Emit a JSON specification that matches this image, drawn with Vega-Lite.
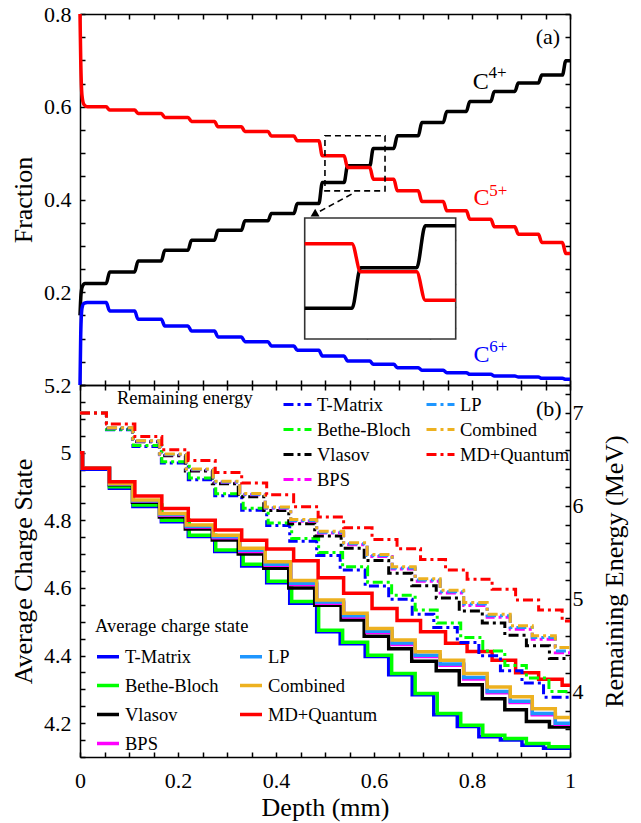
{
"$schema":"https://vega.github.io/schema/vega-lite/v6.json",
"padding":{"left":10,"top":3,"right":5,"bottom":5},
"spacing":0,
"bounds":"flush",
"config":{
 "view":{"stroke":null},
 "font":"Liberation Serif",
 "text":{"font":"Liberation Serif"},
 "style":{"guide-label":{"font":"Liberation Serif","fontWeight":"normal"},"guide-title":{"font":"Liberation Serif","fontWeight":"normal"}},
 "axis":{"domainColor":"#000","domainWidth":1.5,"tickColor":"#000","tickWidth":1.5,"tickSize":-5,"labelPadding":9,"labelFlush":false,"labelFont":"Liberation Serif","labelFontSize":22,"labelColor":"#000","labelOverlap":false,"titleFont":"Liberation Serif","titleFontSize":26,"titleFontWeight":"normal","titleColor":"#000","grid":false},
 "legend":{"labelFont":"Liberation Serif","labelFontWeight":"normal","labelFontSize":18.5,"labelColor":"#000","titleFont":"Liberation Serif","titleFontSize":18.5,"titleFontWeight":"normal","titleColor":"#000","padding":0}
},
"datasets":{
"top":[
{"s":"C4+","d":0,"v":0.15},{"s":"C4+","d":0.002,"v":0.195},{"s":"C4+","d":0.005,"v":0.213},{"s":"C4+","d":0.01,"v":0.2187},
{"s":"C4+","d":0.0535,"v":0.2187},{"s":"C4+","d":0.0605,"v":0.2439},
{"s":"C4+","d":0.1115,"v":0.2439},{"s":"C4+","d":0.1185,"v":0.2676},
{"s":"C4+","d":0.166,"v":0.2676},{"s":"C4+","d":0.173,"v":0.2906},
{"s":"C4+","d":0.2205,"v":0.2906},{"s":"C4+","d":0.2275,"v":0.3122},
{"s":"C4+","d":0.2745,"v":0.3122},{"s":"C4+","d":0.2815,"v":0.3338},
{"s":"C4+","d":0.3295,"v":0.3338},{"s":"C4+","d":0.3365,"v":0.354},
{"s":"C4+","d":0.3835,"v":0.354},{"s":"C4+","d":0.3905,"v":0.3698},
{"s":"C4+","d":0.4365,"v":0.3698},{"s":"C4+","d":0.4435,"v":0.3914},
{"s":"C4+","d":0.4875,"v":0.3914},{"s":"C4+","d":0.4945,"v":0.4367},
{"s":"C4+","d":0.539,"v":0.4367},{"s":"C4+","d":0.546,"v":0.4727},
{"s":"C4+","d":0.5915,"v":0.4727},{"s":"C4+","d":0.5985,"v":0.5101},
{"s":"C4+","d":0.6405,"v":0.5101},{"s":"C4+","d":0.6475,"v":0.5374},
{"s":"C4+","d":0.6905,"v":0.5374},{"s":"C4+","d":0.6975,"v":0.5662},
{"s":"C4+","d":0.7415,"v":0.5662},{"s":"C4+","d":0.7485,"v":0.5899},
{"s":"C4+","d":0.7885,"v":0.5899},{"s":"C4+","d":0.7955,"v":0.6115},
{"s":"C4+","d":0.8385,"v":0.6115},{"s":"C4+","d":0.8455,"v":0.6331},
{"s":"C4+","d":0.8875,"v":0.6331},{"s":"C4+","d":0.8945,"v":0.6511},
{"s":"C4+","d":0.9355,"v":0.6511},{"s":"C4+","d":0.9425,"v":0.6683},
{"s":"C4+","d":0.9845,"v":0.6683},{"s":"C4+","d":0.9915,"v":0.6993},
{"s":"C4+","d":1,"v":0.6993},
{"s":"C5+","d":0,"v":0.8},{"s":"C5+","d":0.0015,"v":0.7},{"s":"C5+","d":0.004,"v":0.625},{"s":"C5+","d":0.008,"v":0.605},{"s":"C5+","d":0.015,"v":0.6},
{"s":"C5+","d":0.0535,"v":0.6},{"s":"C5+","d":0.0605,"v":0.5928},
{"s":"C5+","d":0.1115,"v":0.5928},{"s":"C5+","d":0.1185,"v":0.5856},
{"s":"C5+","d":0.166,"v":0.5856},{"s":"C5+","d":0.173,"v":0.577},
{"s":"C5+","d":0.2205,"v":0.577},{"s":"C5+","d":0.2275,"v":0.5683},
{"s":"C5+","d":0.2745,"v":0.5683},{"s":"C5+","d":0.2815,"v":0.5568},
{"s":"C5+","d":0.3295,"v":0.5568},{"s":"C5+","d":0.3365,"v":0.5468},
{"s":"C5+","d":0.3835,"v":0.5468},{"s":"C5+","d":0.3905,"v":0.5367},
{"s":"C5+","d":0.4365,"v":0.5367},{"s":"C5+","d":0.4435,"v":0.5266},
{"s":"C5+","d":0.4875,"v":0.5266},{"s":"C5+","d":0.4945,"v":0.4942},
{"s":"C5+","d":0.539,"v":0.4942},{"s":"C5+","d":0.546,"v":0.4691},
{"s":"C5+","d":0.5915,"v":0.4691},{"s":"C5+","d":0.5985,"v":0.4439},
{"s":"C5+","d":0.6405,"v":0.4439},{"s":"C5+","d":0.6475,"v":0.4187},
{"s":"C5+","d":0.6905,"v":0.4187},{"s":"C5+","d":0.6975,"v":0.3957},
{"s":"C5+","d":0.7415,"v":0.3957},{"s":"C5+","d":0.7485,"v":0.3755},
{"s":"C5+","d":0.7885,"v":0.3755},{"s":"C5+","d":0.7955,"v":0.3576},
{"s":"C5+","d":0.8385,"v":0.3576},{"s":"C5+","d":0.8455,"v":0.341},
{"s":"C5+","d":0.8875,"v":0.341},{"s":"C5+","d":0.8945,"v":0.3252},
{"s":"C5+","d":0.9355,"v":0.3252},{"s":"C5+","d":0.9425,"v":0.3072},
{"s":"C5+","d":0.9845,"v":0.3072},{"s":"C5+","d":0.9915,"v":0.2835},
{"s":"C5+","d":1,"v":0.2835},
{"s":"C6+","d":0,"v":0},{"s":"C6+","d":0.0015,"v":0.11},{"s":"C6+","d":0.004,"v":0.165},{"s":"C6+","d":0.008,"v":0.176},{"s":"C6+","d":0.015,"v":0.1777},
{"s":"C6+","d":0.0535,"v":0.1777},{"s":"C6+","d":0.0605,"v":0.1597},
{"s":"C6+","d":0.1115,"v":0.1597},{"s":"C6+","d":0.1185,"v":0.1417},
{"s":"C6+","d":0.166,"v":0.1417},{"s":"C6+","d":0.173,"v":0.1273},
{"s":"C6+","d":0.2205,"v":0.1273},{"s":"C6+","d":0.2275,"v":0.1165},
{"s":"C6+","d":0.2745,"v":0.1165},{"s":"C6+","d":0.2815,"v":0.1036},
{"s":"C6+","d":0.3295,"v":0.1036},{"s":"C6+","d":0.3365,"v":0.0935},
{"s":"C6+","d":0.3835,"v":0.0935},{"s":"C6+","d":0.3905,"v":0.0842},
{"s":"C6+","d":0.4365,"v":0.0842},{"s":"C6+","d":0.4435,"v":0.0748},
{"s":"C6+","d":0.4875,"v":0.0748},{"s":"C6+","d":0.4945,"v":0.0626},
{"s":"C6+","d":0.539,"v":0.0626},{"s":"C6+","d":0.546,"v":0.0518},
{"s":"C6+","d":0.5915,"v":0.0518},{"s":"C6+","d":0.5985,"v":0.0446},
{"s":"C6+","d":0.6405,"v":0.0446},{"s":"C6+","d":0.6475,"v":0.0374},
{"s":"C6+","d":0.6905,"v":0.0374},{"s":"C6+","d":0.6975,"v":0.0317},
{"s":"C6+","d":0.7415,"v":0.0317},{"s":"C6+","d":0.7485,"v":0.0266},
{"s":"C6+","d":0.7885,"v":0.0266},{"s":"C6+","d":0.7955,"v":0.023},
{"s":"C6+","d":0.8385,"v":0.023},{"s":"C6+","d":0.8455,"v":0.0194},
{"s":"C6+","d":0.8875,"v":0.0194},{"s":"C6+","d":0.8945,"v":0.0173},
{"s":"C6+","d":0.9355,"v":0.0173},{"s":"C6+","d":0.9425,"v":0.0144},
{"s":"C6+","d":0.9845,"v":0.0144},{"s":"C6+","d":0.9915,"v":0.0122},
{"s":"C6+","d":1,"v":0.0122}
],
"ins":[
{"s":"C4+","d":0.5006,"v":0.4367},{"s":"C4+","d":0.539,"v":0.4367},{"s":"C4+","d":0.546,"v":0.4727},{"s":"C4+","d":0.5915,"v":0.4727},{"s":"C4+","d":0.5985,"v":0.5101},{"s":"C4+","d":0.6232,"v":0.5101},
{"s":"C5+","d":0.5006,"v":0.4942},{"s":"C5+","d":0.539,"v":0.4942},{"s":"C5+","d":0.546,"v":0.4691},{"s":"C5+","d":0.5915,"v":0.4691},{"s":"C5+","d":0.5985,"v":0.4439},{"s":"C5+","d":0.6232,"v":0.4439}
],
"lab":[
{"s":"C4+","t":"C","d":0.8013,"v":0.638},
{"s":"C5+","t":"C","d":0.8029,"v":0.3885},
{"s":"C6+","t":"C","d":0.8029,"v":0.0505}
],
"sup":[
{"s":"C4+","t":"4+","d":0.8335,"v":0.6612},
{"s":"C5+","t":"5+","d":0.835,"v":0.408},
{"s":"C6+","t":"6+","d":0.835,"v":0.0721}
],
"energy":[
{"s":"T-Matrix","d":0,"e":7.0},{"s":"T-Matrix","d":0.054,"e":6.818},{"s":"T-Matrix","d":0.108,"e":6.639},{"s":"T-Matrix","d":0.166,"e":6.46},{"s":"T-Matrix","d":0.221,"e":6.282},{"s":"T-Matrix","d":0.275,"e":6.11},{"s":"T-Matrix","d":0.33,"e":5.953},{"s":"T-Matrix","d":0.381,"e":5.789},{"s":"T-Matrix","d":0.428,"e":5.62},{"s":"T-Matrix","d":0.483,"e":5.467},{"s":"T-Matrix","d":0.531,"e":5.31},{"s":"T-Matrix","d":0.582,"e":5.139},{"s":"T-Matrix","d":0.63,"e":4.996},{"s":"T-Matrix","d":0.678,"e":4.835},{"s":"T-Matrix","d":0.722,"e":4.692},{"s":"T-Matrix","d":0.77,"e":4.532},{"s":"T-Matrix","d":0.814,"e":4.388},{"s":"T-Matrix","d":0.858,"e":4.227},{"s":"T-Matrix","d":0.902,"e":4.095},{"s":"T-Matrix","d":0.946,"e":3.942},{"s":"T-Matrix","d":1,"e":3.942},
{"s":"Bethe-Bloch","d":0,"e":7.0},{"s":"Bethe-Bloch","d":0.054,"e":6.825},{"s":"Bethe-Bloch","d":0.109,"e":6.65},{"s":"Bethe-Bloch","d":0.167,"e":6.475},{"s":"Bethe-Bloch","d":0.223,"e":6.3},{"s":"Bethe-Bloch","d":0.277,"e":6.13},{"s":"Bethe-Bloch","d":0.333,"e":5.975},{"s":"Bethe-Bloch","d":0.384,"e":5.815},{"s":"Bethe-Bloch","d":0.432,"e":5.65},{"s":"Bethe-Bloch","d":0.487,"e":5.5},{"s":"Bethe-Bloch","d":0.536,"e":5.345},{"s":"Bethe-Bloch","d":0.587,"e":5.18},{"s":"Bethe-Bloch","d":0.636,"e":5.04},{"s":"Bethe-Bloch","d":0.684,"e":4.88},{"s":"Bethe-Bloch","d":0.729,"e":4.74},{"s":"Bethe-Bloch","d":0.777,"e":4.585},{"s":"Bethe-Bloch","d":0.822,"e":4.44},{"s":"Bethe-Bloch","d":0.867,"e":4.285},{"s":"Bethe-Bloch","d":0.911,"e":4.15},{"s":"Bethe-Bloch","d":0.957,"e":4.005},{"s":"Bethe-Bloch","d":1,"e":4.005},
{"s":"Vlasov","d":0,"e":7.0},{"s":"Vlasov","d":0.054,"e":6.834},{"s":"Vlasov","d":0.107,"e":6.689},{"s":"Vlasov","d":0.162,"e":6.54},{"s":"Vlasov","d":0.215,"e":6.376},{"s":"Vlasov","d":0.27,"e":6.237},{"s":"Vlasov","d":0.323,"e":6.099},{"s":"Vlasov","d":0.375,"e":5.95},{"s":"Vlasov","d":0.426,"e":5.808},{"s":"Vlasov","d":0.479,"e":5.676},{"s":"Vlasov","d":0.533,"e":5.545},{"s":"Vlasov","d":0.58,"e":5.414},{"s":"Vlasov","d":0.63,"e":5.276},{"s":"Vlasov","d":0.677,"e":5.142},{"s":"Vlasov","d":0.727,"e":5.01},{"s":"Vlasov","d":0.774,"e":4.87},{"s":"Vlasov","d":0.821,"e":4.74},{"s":"Vlasov","d":0.867,"e":4.608},{"s":"Vlasov","d":0.911,"e":4.495},{"s":"Vlasov","d":0.958,"e":4.36},{"s":"Vlasov","d":1,"e":4.36},
{"s":"BPS","d":0,"e":7.0},{"s":"BPS","d":0.054,"e":6.837},{"s":"BPS","d":0.108,"e":6.695},{"s":"BPS","d":0.163,"e":6.55},{"s":"BPS","d":0.217,"e":6.388},{"s":"BPS","d":0.272,"e":6.253},{"s":"BPS","d":0.326,"e":6.119},{"s":"BPS","d":0.378,"e":5.974},{"s":"BPS","d":0.43,"e":5.836},{"s":"BPS","d":0.483,"e":5.709},{"s":"BPS","d":0.538,"e":5.582},{"s":"BPS","d":0.586,"e":5.455},{"s":"BPS","d":0.637,"e":5.321},{"s":"BPS","d":0.684,"e":5.191},{"s":"BPS","d":0.735,"e":5.063},{"s":"BPS","d":0.783,"e":4.929},{"s":"BPS","d":0.831,"e":4.802},{"s":"BPS","d":0.878,"e":4.675},{"s":"BPS","d":0.923,"e":4.566},{"s":"BPS","d":0.97,"e":4.42},{"s":"BPS","d":1,"e":4.42},
{"s":"LP","d":0,"e":7.0},{"s":"LP","d":0.054,"e":6.838},{"s":"LP","d":0.108,"e":6.697},{"s":"LP","d":0.163,"e":6.553},{"s":"LP","d":0.217,"e":6.392},{"s":"LP","d":0.272,"e":6.258},{"s":"LP","d":0.326,"e":6.125},{"s":"LP","d":0.378,"e":5.981},{"s":"LP","d":0.43,"e":5.844},{"s":"LP","d":0.483,"e":5.718},{"s":"LP","d":0.538,"e":5.592},{"s":"LP","d":0.586,"e":5.466},{"s":"LP","d":0.637,"e":5.333},{"s":"LP","d":0.684,"e":5.204},{"s":"LP","d":0.735,"e":5.077},{"s":"LP","d":0.783,"e":4.944},{"s":"LP","d":0.831,"e":4.818},{"s":"LP","d":0.878,"e":4.692},{"s":"LP","d":0.923,"e":4.584},{"s":"LP","d":0.97,"e":4.44},{"s":"LP","d":1,"e":4.44},
{"s":"Combined","d":0,"e":7.0},{"s":"Combined","d":0.054,"e":6.84},{"s":"Combined","d":0.108,"e":6.7},{"s":"Combined","d":0.163,"e":6.557},{"s":"Combined","d":0.217,"e":6.397},{"s":"Combined","d":0.272,"e":6.264},{"s":"Combined","d":0.326,"e":6.132},{"s":"Combined","d":0.378,"e":5.989},{"s":"Combined","d":0.43,"e":5.853},{"s":"Combined","d":0.483,"e":5.728},{"s":"Combined","d":0.538,"e":5.603},{"s":"Combined","d":0.586,"e":5.478},{"s":"Combined","d":0.637,"e":5.346},{"s":"Combined","d":0.684,"e":5.218},{"s":"Combined","d":0.735,"e":5.092},{"s":"Combined","d":0.783,"e":4.96},{"s":"Combined","d":0.831,"e":4.835},{"s":"Combined","d":0.878,"e":4.71},{"s":"Combined","d":0.923,"e":4.603},{"s":"Combined","d":0.97,"e":4.478},{"s":"Combined","d":1,"e":4.478},
{"s":"MD+Quantum","d":0,"e":7.0},{"s":"MD+Quantum","d":0.054,"e":6.88},{"s":"MD+Quantum","d":0.112,"e":6.745},{"s":"MD+Quantum","d":0.167,"e":6.605},{"s":"MD+Quantum","d":0.221,"e":6.488},{"s":"MD+Quantum","d":0.276,"e":6.36},{"s":"MD+Quantum","d":0.33,"e":6.246},{"s":"MD+Quantum","d":0.381,"e":6.12},{"s":"MD+Quantum","d":0.436,"e":5.99},{"s":"MD+Quantum","d":0.486,"e":5.88},{"s":"MD+Quantum","d":0.538,"e":5.764},{"s":"MD+Quantum","d":0.596,"e":5.639},{"s":"MD+Quantum","d":0.647,"e":5.539},{"s":"MD+Quantum","d":0.695,"e":5.424},{"s":"MD+Quantum","d":0.746,"e":5.31},{"s":"MD+Quantum","d":0.79,"e":5.21},{"s":"MD+Quantum","d":0.841,"e":5.103},{"s":"MD+Quantum","d":0.889,"e":4.989},{"s":"MD+Quantum","d":0.936,"e":4.881},{"s":"MD+Quantum","d":0.984,"e":4.763},{"s":"MD+Quantum","d":1,"e":4.763}
],
"charge":[
{"s":"T-Matrix","d":0,"q":5.0},{"s":"T-Matrix","d":0.005,"q":4.951},{"s":"T-Matrix","d":0.06,"q":4.895},{"s":"T-Matrix","d":0.108,"q":4.841},{"s":"T-Matrix","d":0.166,"q":4.796},{"s":"T-Matrix","d":0.221,"q":4.752},{"s":"T-Matrix","d":0.275,"q":4.708},{"s":"T-Matrix","d":0.33,"q":4.665},{"s":"T-Matrix","d":0.381,"q":4.615},{"s":"T-Matrix","d":0.428,"q":4.555},{"s":"T-Matrix","d":0.483,"q":4.47},{"s":"T-Matrix","d":0.531,"q":4.435},{"s":"T-Matrix","d":0.582,"q":4.397},{"s":"T-Matrix","d":0.63,"q":4.343},{"s":"T-Matrix","d":0.678,"q":4.284},{"s":"T-Matrix","d":0.722,"q":4.225},{"s":"T-Matrix","d":0.77,"q":4.19},{"s":"T-Matrix","d":0.814,"q":4.16},{"s":"T-Matrix","d":0.858,"q":4.15},{"s":"T-Matrix","d":0.902,"q":4.135},{"s":"T-Matrix","d":0.946,"q":4.126},{"s":"T-Matrix","d":1,"q":4.126},
{"s":"Bethe-Bloch","d":0,"q":5.0},{"s":"Bethe-Bloch","d":0.005,"q":4.954},{"s":"Bethe-Bloch","d":0.06,"q":4.899},{"s":"Bethe-Bloch","d":0.109,"q":4.845},{"s":"Bethe-Bloch","d":0.167,"q":4.8},{"s":"Bethe-Bloch","d":0.223,"q":4.756},{"s":"Bethe-Bloch","d":0.277,"q":4.712},{"s":"Bethe-Bloch","d":0.333,"q":4.67},{"s":"Bethe-Bloch","d":0.384,"q":4.62},{"s":"Bethe-Bloch","d":0.432,"q":4.56},{"s":"Bethe-Bloch","d":0.487,"q":4.475},{"s":"Bethe-Bloch","d":0.536,"q":4.439},{"s":"Bethe-Bloch","d":0.587,"q":4.401},{"s":"Bethe-Bloch","d":0.636,"q":4.347},{"s":"Bethe-Bloch","d":0.684,"q":4.288},{"s":"Bethe-Bloch","d":0.729,"q":4.229},{"s":"Bethe-Bloch","d":0.777,"q":4.194},{"s":"Bethe-Bloch","d":0.822,"q":4.164},{"s":"Bethe-Bloch","d":0.867,"q":4.155},{"s":"Bethe-Bloch","d":0.911,"q":4.14},{"s":"Bethe-Bloch","d":0.957,"q":4.13},{"s":"Bethe-Bloch","d":1,"q":4.13},
{"s":"Vlasov","d":0,"q":5.0},{"s":"Vlasov","d":0.005,"q":4.954},{"s":"Vlasov","d":0.06,"q":4.905},{"s":"Vlasov","d":0.107,"q":4.853},{"s":"Vlasov","d":0.162,"q":4.81},{"s":"Vlasov","d":0.215,"q":4.774},{"s":"Vlasov","d":0.27,"q":4.742},{"s":"Vlasov","d":0.323,"q":4.7},{"s":"Vlasov","d":0.375,"q":4.658},{"s":"Vlasov","d":0.426,"q":4.6},{"s":"Vlasov","d":0.479,"q":4.549},{"s":"Vlasov","d":0.533,"q":4.505},{"s":"Vlasov","d":0.58,"q":4.457},{"s":"Vlasov","d":0.63,"q":4.42},{"s":"Vlasov","d":0.677,"q":4.383},{"s":"Vlasov","d":0.727,"q":4.355},{"s":"Vlasov","d":0.774,"q":4.314},{"s":"Vlasov","d":0.821,"q":4.272},{"s":"Vlasov","d":0.867,"q":4.24},{"s":"Vlasov","d":0.911,"q":4.205},{"s":"Vlasov","d":0.958,"q":4.189},{"s":"Vlasov","d":1,"q":4.189},
{"s":"BPS","d":0,"q":5.0},{"s":"BPS","d":0.005,"q":4.954},{"s":"BPS","d":0.06,"q":4.907},{"s":"BPS","d":0.108,"q":4.857},{"s":"BPS","d":0.163,"q":4.815},{"s":"BPS","d":0.217,"q":4.78},{"s":"BPS","d":0.272,"q":4.748},{"s":"BPS","d":0.326,"q":4.708},{"s":"BPS","d":0.378,"q":4.667},{"s":"BPS","d":0.43,"q":4.61},{"s":"BPS","d":0.483,"q":4.555},{"s":"BPS","d":0.538,"q":4.514},{"s":"BPS","d":0.586,"q":4.468},{"s":"BPS","d":0.637,"q":4.433},{"s":"BPS","d":0.684,"q":4.397},{"s":"BPS","d":0.735,"q":4.371},{"s":"BPS","d":0.783,"q":4.331},{"s":"BPS","d":0.831,"q":4.29},{"s":"BPS","d":0.878,"q":4.261},{"s":"BPS","d":0.923,"q":4.225},{"s":"BPS","d":0.97,"q":4.197},{"s":"BPS","d":1,"q":4.197},
{"s":"LP","d":0,"q":5.0},{"s":"LP","d":0.005,"q":4.954},{"s":"LP","d":0.06,"q":4.908},{"s":"LP","d":0.108,"q":4.858},{"s":"LP","d":0.163,"q":4.817},{"s":"LP","d":0.217,"q":4.782},{"s":"LP","d":0.272,"q":4.751},{"s":"LP","d":0.326,"q":4.711},{"s":"LP","d":0.378,"q":4.67},{"s":"LP","d":0.43,"q":4.614},{"s":"LP","d":0.483,"q":4.558},{"s":"LP","d":0.538,"q":4.518},{"s":"LP","d":0.586,"q":4.472},{"s":"LP","d":0.637,"q":4.437},{"s":"LP","d":0.684,"q":4.401},{"s":"LP","d":0.735,"q":4.375},{"s":"LP","d":0.783,"q":4.335},{"s":"LP","d":0.831,"q":4.294},{"s":"LP","d":0.878,"q":4.265},{"s":"LP","d":0.923,"q":4.229},{"s":"LP","d":0.97,"q":4.2},{"s":"LP","d":1,"q":4.2},
{"s":"Combined","d":0,"q":5.0},{"s":"Combined","d":0.005,"q":4.954},{"s":"Combined","d":0.06,"q":4.909},{"s":"Combined","d":0.108,"q":4.86},{"s":"Combined","d":0.163,"q":4.82},{"s":"Combined","d":0.217,"q":4.786},{"s":"Combined","d":0.272,"q":4.756},{"s":"Combined","d":0.326,"q":4.717},{"s":"Combined","d":0.378,"q":4.677},{"s":"Combined","d":0.43,"q":4.622},{"s":"Combined","d":0.483,"q":4.564},{"s":"Combined","d":0.538,"q":4.525},{"s":"Combined","d":0.586,"q":4.48},{"s":"Combined","d":0.637,"q":4.446},{"s":"Combined","d":0.684,"q":4.411},{"s":"Combined","d":0.735,"q":4.386},{"s":"Combined","d":0.783,"q":4.347},{"s":"Combined","d":0.831,"q":4.307},{"s":"Combined","d":0.878,"q":4.278},{"s":"Combined","d":0.923,"q":4.243},{"s":"Combined","d":0.97,"q":4.217},{"s":"Combined","d":1,"q":4.217},
{"s":"MD+Quantum","d":0,"q":5.0},{"s":"MD+Quantum","d":0.005,"q":4.954},{"s":"MD+Quantum","d":0.06,"q":4.914},{"s":"MD+Quantum","d":0.112,"q":4.872},{"s":"MD+Quantum","d":0.167,"q":4.835},{"s":"MD+Quantum","d":0.221,"q":4.8},{"s":"MD+Quantum","d":0.276,"q":4.771},{"s":"MD+Quantum","d":0.33,"q":4.741},{"s":"MD+Quantum","d":0.381,"q":4.715},{"s":"MD+Quantum","d":0.436,"q":4.68},{"s":"MD+Quantum","d":0.486,"q":4.63},{"s":"MD+Quantum","d":0.538,"q":4.584},{"s":"MD+Quantum","d":0.596,"q":4.539},{"s":"MD+Quantum","d":0.647,"q":4.504},{"s":"MD+Quantum","d":0.695,"q":4.47},{"s":"MD+Quantum","d":0.746,"q":4.436},{"s":"MD+Quantum","d":0.79,"q":4.412},{"s":"MD+Quantum","d":0.841,"q":4.386},{"s":"MD+Quantum","d":0.889,"q":4.349},{"s":"MD+Quantum","d":0.936,"q":4.33},{"s":"MD+Quantum","d":0.984,"q":4.312},{"s":"MD+Quantum","d":1,"q":4.312}
]
},
"vconcat":[
{
 "width":490,"height":371,
 "layer":[
  {
   "layer":[
    {"data":{"name":"top"},"mark":{"type":"line","interpolate":"monotone","strokeWidth":3.5},
     "encoding":{
      "x":{"field":"d","type":"quantitative","scale":{"domain":[0,1],"nice":false,"zero":false},"axis":{"orient":"bottom","values":[0,0.05,0.1,0.15,0.2,0.25,0.3,0.35,0.4,0.45,0.5,0.55,0.6,0.65,0.7,0.75,0.8,0.85,0.9,0.95,1],"labels":false,"title":null}},
      "y":{"field":"v","type":"quantitative","scale":{"domain":[0,0.8],"nice":false,"zero":false},"axis":{"orient":"left","values":[0,0.05,0.1,0.15,0.2,0.25,0.3,0.35,0.4,0.45,0.5,0.55,0.6,0.65,0.7,0.75,0.8],"format":"~g","labelPadding":14,"labelExpr":"indexof(['0.2','0.4','0.6','0.8'], datum.label) >= 0 ? datum.label : ''","title":"Fraction","titleX":-57,"titleY":185.5,"titleAngle":-90,"titleBaseline":"middle","titleAlign":"center"}},
      "color":{"field":"s","type":"nominal","scale":{"domain":["C4+","C5+","C6+"],"range":["#000000","#ff0000","#0000ff"]},"legend":null}}},
    {"data":{"name":"lab"},"mark":{"type":"text","font":"Liberation Serif","fontSize":24,"align":"left","baseline":"alphabetic"},
     "encoding":{
      "x":{"field":"d","type":"quantitative","scale":{"domain":[0,1],"nice":false,"zero":false},"axis":{"orient":"top","values":[0,0.05,0.1,0.15,0.2,0.25,0.3,0.35,0.4,0.45,0.5,0.55,0.6,0.65,0.7,0.75,0.8,0.85,0.9,0.95,1],"labels":false,"title":null}},
      "y":{"field":"v","type":"quantitative","scale":{"domain":[0,0.8],"nice":false,"zero":false},"axis":{"orient":"right","values":[0,0.05,0.1,0.15,0.2,0.25,0.3,0.35,0.4,0.45,0.5,0.55,0.6,0.65,0.7,0.75,0.8],"labels":false,"title":null}},
      "text":{"field":"t"},
      "color":{"field":"s","type":"nominal","scale":{"domain":["C4+","C5+","C6+"],"range":["#000000","#ff0000","#0000ff"]},"legend":null}}},
    {"data":{"name":"sup"},"mark":{"type":"text","font":"Liberation Serif","fontSize":17,"align":"left","baseline":"alphabetic"},
     "encoding":{
      "x":{"field":"d","type":"quantitative","scale":{"domain":[0,1],"nice":false,"zero":false},"axis":null},
      "y":{"field":"v","type":"quantitative","scale":{"domain":[0,0.8],"nice":false,"zero":false},"axis":null},
      "text":{"field":"t"},
      "color":{"field":"s","type":"nominal","scale":{"domain":["C4+","C5+","C6+"],"range":["#000000","#ff0000","#0000ff"]},"legend":null}}},
    {"data":{"values":[{"t":"(a)","d":0.955,"v":0.7514}]},"mark":{"type":"text","font":"Liberation Serif","fontSize":22,"align":"center","baseline":"middle","color":"#000"},
     "encoding":{
      "x":{"field":"d","type":"quantitative","scale":{"domain":[0,1],"nice":false,"zero":false},"axis":null},
      "y":{"field":"v","type":"quantitative","scale":{"domain":[0,0.8],"nice":false,"zero":false},"axis":null},
      "text":{"field":"t"}}},
    {"data":{"values":[{"x1":0.4999,"x2":0.6225,"y1":0.4187,"y2":0.5374}]},"mark":{"type":"rect","filled":false,"color":"#000","strokeWidth":1.6,"strokeDash":[6,4]},
     "encoding":{
      "x":{"field":"x1","type":"quantitative","scale":{"domain":[0,1],"nice":false,"zero":false},"axis":null},"x2":{"field":"x2"},
      "y":{"field":"y1","type":"quantitative","scale":{"domain":[0,0.8],"nice":false,"zero":false},"axis":null},"y2":{"field":"y2"}}},
    {"data":{"values":[{"d":0.5543,"v":0.4116,"o":1},{"d":0.4797,"v":0.3689,"o":2}]},"mark":{"type":"line","color":"#000","strokeWidth":1.6,"strokeDash":[6,4]},
     "encoding":{
      "x":{"field":"d","type":"quantitative","scale":{"domain":[0,1],"nice":false,"zero":false},"axis":null},
      "y":{"field":"v","type":"quantitative","scale":{"domain":[0,0.8],"nice":false,"zero":false},"axis":null},
      "order":{"field":"o","type":"quantitative"}}},
    {"data":{"values":[{"d":0.4775,"v":0.3676}]},"mark":{"type":"point","shape":"triangle-up","filled":true,"color":"#000","opacity":1,"size":80,"angle":241},
     "encoding":{
      "x":{"field":"d","type":"quantitative","scale":{"domain":[0,1],"nice":false,"zero":false},"axis":null},
      "y":{"field":"v","type":"quantitative","scale":{"domain":[0,0.8],"nice":false,"zero":false},"axis":null}}}
   ],
   "resolve":{"axis":{"x":"independent","y":"independent"}}
  },
  {
   "layer":[
    {"data":{"values":[{"x1":0.5006,"x2":0.6232,"y1":0.4094,"y2":0.517}]},"mark":{"type":"rect","fill":"#ffffff","stroke":"#333333","strokeWidth":1.6},
     "encoding":{
      "x":{"field":"x1","type":"quantitative","scale":{"domain":[0.5006,0.6232],"range":[224.7,375.7],"nice":false,"zero":false},"axis":{"orient":"bottom","offset":-46,"values":[0.5515,0.6024],"labels":false,"domain":false,"tickSize":-4,"tickColor":"#333","title":null}},"x2":{"field":"x2"},
      "y":{"field":"y1","type":"quantitative","scale":{"domain":[0.4094,0.517],"range":[325,204],"nice":false,"zero":false},"axis":{"orient":"left","offset":-224.7,"values":[0.4189,0.4382,0.4581,0.4773,0.4976],"labels":false,"domain":false,"tickSize":-4,"tickColor":"#333","title":null}},"y2":{"field":"y2"}}},
    {"data":{"name":"ins"},"mark":{"type":"line","interpolate":"monotone","strokeWidth":3.5},
     "encoding":{
      "x":{"field":"d","type":"quantitative","scale":{"domain":[0.5006,0.6232],"range":[224.7,375.7],"nice":false,"zero":false},"axis":{"orient":"top","offset":-204,"values":[0.5515,0.6024],"labels":false,"domain":false,"tickSize":-4,"tickColor":"#333","title":null}},
      "y":{"field":"v","type":"quantitative","scale":{"domain":[0.4094,0.517],"range":[325,204],"nice":false,"zero":false},"axis":{"orient":"right","offset":-114.3,"values":[0.4189,0.4382,0.4581,0.4773,0.4976],"labels":false,"domain":false,"tickSize":-4,"tickColor":"#333","title":null}},
      "color":{"field":"s","type":"nominal","scale":{"domain":["C4+","C5+","C6+"],"range":["#000000","#ff0000","#0000ff"]},"legend":null}}}
   ],
   "resolve":{"axis":{"x":"independent","y":"independent"}}
  }
 ],
 "resolve":{"scale":{"x":"independent","y":"independent","color":"independent"},"axis":{"x":"independent","y":"independent"}}
},
{
 "width":490,"height":372,
 "layer":[
  {"data":{"name":"charge"},"mark":{"type":"line","interpolate":"step-after","strokeWidth":3.5},
   "encoding":{
    "x":{"field":"d","type":"quantitative","scale":{"domain":[0,1],"nice":false,"zero":false},"axis":{"orient":"bottom","values":[0,0.05,0.1,0.15,0.2,0.25,0.3,0.35,0.4,0.45,0.5,0.55,0.6,0.65,0.7,0.75,0.8,0.85,0.9,0.95,1],"format":"~g","labelPadding":18,"labelExpr":"indexof(['0','0.2','0.4','0.6','0.8','1'], datum.label) >= 0 ? datum.label : ''","title":"Depth (mm)","titleX":245,"titleY":50,"titleBaseline":"middle","titleAlign":"center"}},
    "y":{"field":"q","type":"quantitative","scale":{"domain":[4.1,5.2],"nice":false,"zero":false},"axis":{"orient":"left","values":[4.1,4.15,4.2,4.25,4.3,4.35,4.4,4.45,4.5,4.55,4.6,4.65,4.7,4.75,4.8,4.85,4.9,4.95,5,5.05,5.1,5.15,5.2],"format":"~g","labelPadding":14,"labelExpr":"indexof(['4.2','4.4','4.6','4.8','5','5.2'], datum.label) >= 0 ? datum.label : ''","title":"Average Charge State","titleX":-57,"titleY":186,"titleAngle":-90,"titleBaseline":"middle","titleAlign":"center"}},
    "color":{"field":"s","type":"nominal","scale":{"domain":["T-Matrix","LP","Bethe-Bloch","Combined","Vlasov","MD+Quantum","BPS"],"range":["#0000ff","#1e96ff","#00ff00","#edb120","#000000","#ff0000","#ff00ff"]},
     "legend":{"title":"Average charge state","orient":"none","legendX":15,"legendY":232,"columns":2,"columnPadding":14,"rowPadding":6,"titlePadding":8,"values":["T-Matrix","Bethe-Bloch","Vlasov","BPS","LP","Combined","MD+Quantum"],"symbolType":"stroke","symbolSize":484,"symbolStrokeWidth":3.5,"labelOffset":4,"labelFont":"Liberation Serif","labelFontWeight":"normal","labelFontSize":18.5,"titleFont":"Liberation Serif","titleFontSize":18.5}}}},
  {"data":{"name":"energy"},"mark":{"type":"line","interpolate":"step-after","strokeWidth":3,"strokeDash":[10,4,3,4]},
   "encoding":{
    "x":{"field":"d","type":"quantitative","scale":{"domain":[0,1],"nice":false,"zero":false},"axis":{"orient":"top","values":[0,0.05,0.1,0.15,0.2,0.25,0.3,0.35,0.4,0.45,0.5,0.55,0.6,0.65,0.7,0.75,0.8,0.85,0.9,0.95,1],"labels":false,"title":null}},
    "y":{"field":"e","type":"quantitative","scale":{"domain":[3.3,7.3],"nice":false,"zero":false},"axis":{"orient":"right","values":[3.4,3.6,3.8,4,4.2,4.4,4.6,4.8,5,5.2,5.4,5.6,5.8,6,6.2,6.4,6.6,6.8,7,7.2],"format":"~g","labelPadding":7,"labelExpr":"indexof(['4','5','6','7'], datum.label) >= 0 ? datum.label : ''","title":"Remaining Energy (MeV)","titleX":44,"titleY":186,"titleAngle":-90,"titleBaseline":"middle","titleAlign":"center"}},
    "stroke":{"field":"s","type":"nominal","scale":{"domain":["T-Matrix","Bethe-Bloch","Vlasov","BPS","LP","Combined","MD+Quantum"],"range":["#0000ff","#00ff00","#000000","#ff00ff","#1e96ff","#edb120","#ff0000"]},
     "legend":{"title":"Remaining energy","orient":"none","legendX":37,"legendY":4,"columns":2,"columnPadding":9,"rowPadding":0,"titleOrient":"left","titleAnchor":"start","titleBaseline":"top","titlePadding":29,"symbolType":"stroke","symbolSize":784,"symbolStrokeWidth":3,"symbolDash":[10,4,3,4],"labelOffset":4,"labelFont":"Liberation Serif","labelFontWeight":"normal","labelFontSize":18.5,"titleFont":"Liberation Serif","titleFontSize":18.5}}}},
  {"data":{"values":[{"t":"(b)","d":0.9567,"q":5.128}]},"mark":{"type":"text","font":"Liberation Serif","fontSize":22,"align":"center","baseline":"middle","color":"#000"},
   "encoding":{
    "x":{"field":"d","type":"quantitative","scale":{"domain":[0,1],"nice":false,"zero":false},"axis":null},
    "y":{"field":"q","type":"quantitative","scale":{"domain":[4.1,5.2],"nice":false,"zero":false},"axis":null},
    "text":{"field":"t"}}}
 ],
 "resolve":{"scale":{"y":"independent","color":"independent","stroke":"independent"},"axis":{"x":"independent","y":"independent"}}
}
],
"resolve":{"scale":{"color":"independent","stroke":"independent"},"legend":{"color":"independent","stroke":"independent"}}
}
